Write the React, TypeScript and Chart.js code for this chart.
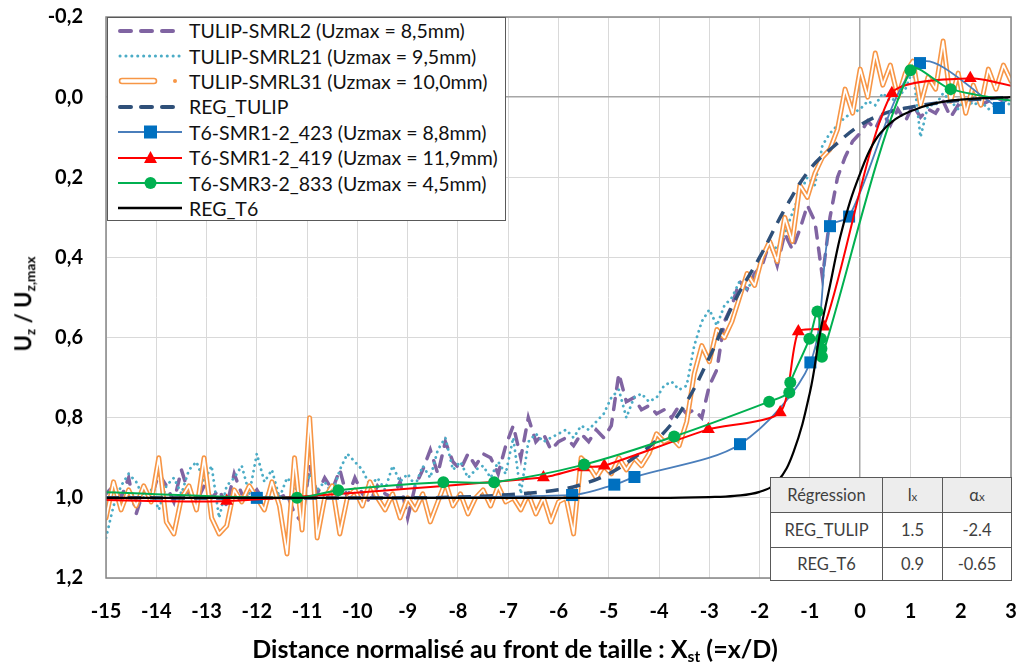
import React, { useEffect, useRef } from "react";
import { Chart, registerables } from "chart.js";

Chart.register(...registerables);

const FONT = "Lato, 'Open Sans', 'DejaVu Sans', sans-serif";

// ---------- data ----------
const xTickValues = [-15, -14, -13, -12, -11, -10, -9, -8, -7, -6, -5, -4, -3, -2, -1, 0, 1, 2, 3];
const yTickValues = [-0.2, 0, 0.2, 0.4, 0.6, 0.8, 1.0, 1.2];

const legendLabels = [
  "TULIP-SMRL2 (Uzmax = 8,5mm)",
  "TULIP-SMRL21 (Uzmax = 9,5mm)",
  "TULIP-SMRL31 (Uzmax = 10,0mm)",
  "REG_TULIP",
  "T6-SMR1-2_423 (Uzmax = 8,8mm)",
  "T6-SMR1-2_419 (Uzmax = 11,9mm)",
  "T6-SMR3-2_833 (Uzmax = 4,5mm)",
  "REG_T6",
];

const tableHeader = ["Régression", "l", "α"];
const tableRows = [
  ["REG_TULIP", "1.5", "-2.4"],
  ["REG_T6", "0.9", "-0.65"],
];

const tulipX = [
  -15, -14.85, -14.7, -14.55, -14.4, -14.25, -14.1, -13.95, -13.8, -13.65,
  -13.5, -13.35, -13.2, -13.05, -12.9, -12.75, -12.6, -12.45, -12.3, -12.15,
  -12, -11.85, -11.7, -11.55, -11.4, -11.25, -11.1, -10.95, -10.8, -10.65,
  -10.5, -10.35, -10.2, -10.05, -9.9, -9.75, -9.6, -9.45, -9.3, -9.15,
  -9, -8.85, -8.7, -8.55, -8.4, -8.25, -8.1, -7.95, -7.8, -7.65,
  -7.5, -7.35, -7.2, -7.05, -6.9, -6.75, -6.6, -6.45, -6.3, -6.15,
  -6, -5.85, -5.7, -5.55, -5.4, -5.25, -5.1, -4.95, -4.8, -4.65,
  -4.5, -4.35, -4.2, -4.05, -3.9, -3.75, -3.6, -3.45, -3.3, -3.15,
  -3, -2.85, -2.7, -2.55, -2.4, -2.25, -2.1, -1.95, -1.8, -1.65,
  -1.5, -1.35, -1.2, -1.05, -0.9, -0.75, -0.6, -0.45, -0.3, -0.15,
  0, 0.15, 0.3, 0.45, 0.6, 0.75, 0.9, 1.05, 1.2, 1.35,
  1.5, 1.65, 1.8, 1.95, 2.1, 2.25, 2.4, 2.55, 2.7, 2.85,
  3,
];

const smrl2Y = [
  0.99, 0.97, 1.0, 0.95, 1.04, 0.98, 1.0, 0.94, 0.97, 1.01,
  0.93, 0.99, 1.01, 0.97, 1.0, 0.98, 1.02, 0.94, 0.99, 1.0,
  0.98, 1.01, 0.97, 1.0, 0.99, 1.04, 1.06, 0.92, 0.99, 0.95,
  0.98, 0.93, 1.0, 0.95, 0.99, 1.01, 0.97, 0.99, 1.0, 0.96,
  1.05, 0.97, 0.93, 0.88, 0.94, 0.86, 0.91, 0.93, 0.89, 0.92,
  0.89, 0.9, 0.94, 0.87, 0.82, 0.9, 0.8, 0.86, 0.84, 0.88,
  0.86, 0.85, 0.87, 0.84, 0.86, 0.83, 0.85, 0.82, 0.69, 0.76,
  0.75, 0.78, 0.77, 0.79, 0.78, 0.8, 0.77, 0.79, 0.78, 0.8,
  0.72, 0.68, 0.56, 0.52, 0.46, 0.48, 0.44, 0.42, 0.36, 0.42,
  0.34, 0.38, 0.33, 0.27, 0.31, 0.45, 0.3, 0.2, 0.15, 0.11,
  0.09, 0.06, 0.08, 0.04, 0.07, 0.03, 0.06, 0.02, 0.05, 0.03,
  0.04, 0.01, 0.05, 0.02, 0.03, 0.0, 0.02, 0.01, 0.0, 0.01,
  0.0,
];

const smrl21Y = [
  1.1, 1.02, 0.97, 0.94, 0.96, 1.0, 0.98, 1.03, 0.97, 0.95,
  0.99, 0.93, 0.91, 0.96, 0.92, 1.05, 0.97, 0.95, 0.92, 0.99,
  0.89, 0.96, 0.93, 1.0, 0.95, 0.97, 1.01, 0.94, 0.98, 0.96,
  0.99, 0.93, 0.89, 0.91, 0.93, 0.97, 0.95, 0.98, 0.92, 0.96,
  0.94, 0.97, 0.92, 0.95, 0.88, 0.85, 0.93, 0.91, 0.95, 0.93,
  0.92, 0.95, 0.91, 0.94, 0.85, 0.99, 0.86, 0.84, 0.86, 0.85,
  0.84, 0.83, 0.85, 0.82, 0.83, 0.81, 0.79, 0.75, 0.73, 0.8,
  0.75, 0.74, 0.76, 0.75, 0.72, 0.71, 0.73, 0.72, 0.62, 0.56,
  0.53, 0.57, 0.52, 0.5, 0.46, 0.48, 0.45, 0.4, 0.36, 0.38,
  0.34, 0.29, 0.24, 0.2, 0.22, 0.12, 0.09, 0.07, 0.05, 0.04,
  0.03, 0.01, 0.02, -0.01, 0.01, 0.0, -0.02, -0.07, 0.1, 0.02,
  0.02, -0.01, 0.01, 0.03, 0.0, 0.02, 0.01, 0.03, 0.02, 0.01,
  0.02,
];

const smrl31Y = [
  1.05, 0.96, 1.03, 0.98, 1.02, 0.97, 1.01, 0.9, 1.06, 1.09,
  1.0, 0.97, 1.03, 0.9, 1.05, 1.09, 1.07, 0.98, 1.01, 0.97,
  1.0, 1.03, 0.96, 1.02, 1.14, 0.9, 1.08, 0.8, 1.1, 1.0,
  0.97, 1.09, 1.0, 0.98, 1.02, 0.96, 1.0, 1.03, 0.99, 1.05,
  1.0, 1.03, 0.99, 1.06, 1.01, 0.96, 1.02, 0.99, 1.04, 1.0,
  0.98, 1.02, 0.97, 1.01, 1.0, 1.03, 0.99, 1.04, 1.0, 1.06,
  1.01, 1.0, 1.09, 0.9, 0.92, 0.95, 0.92, 0.94, 0.9, 0.93,
  0.9, 0.92, 0.89, 0.84, 0.86, 0.85, 0.87, 0.81, 0.69, 0.62,
  0.66, 0.58, 0.6, 0.56, 0.5, 0.44, 0.47, 0.4, 0.36, 0.41,
  0.3, 0.36, 0.22, 0.25, 0.19, 0.15, 0.13, 0.08, -0.02, 0.04,
  -0.07, 0.0, -0.11, -0.03, -0.08, 0.0, -0.06, -0.09, 0.02, -0.05,
  -0.02, -0.14, 0.01, -0.06, 0.04, -0.03, 0.02, -0.07, -0.02, -0.08,
  -0.04,
];

const regTulipX = [-15, -9, -8, -7, -6, -5.5, -5, -4.5, -4, -3.5, -3, -2.5, -2, -1.5, -1, -0.5, 0, 0.5, 1, 1.5, 2, 3];
const regTulipY = [1.0, 1.0, 0.998, 0.992, 0.98, 0.965, 0.94, 0.9, 0.85, 0.77, 0.65, 0.51, 0.4, 0.28, 0.18, 0.12, 0.07, 0.04, 0.025, 0.015, 0.008, 0.0];

const regT6X = [-15, -4, -3, -2.5, -2, -1.65, -1.33, -1.0, -0.8, -0.6, -0.4, -0.2, 0, 0.2, 0.4, 0.7, 1.0, 1.5, 2, 3];
const regT6Y = [1.0, 1.0, 0.998, 0.995, 0.985, 0.96, 0.887, 0.737, 0.59, 0.47, 0.35, 0.26, 0.19, 0.13, 0.09, 0.055, 0.035, 0.015, 0.006, 0.0];

const t6s423X = [-15.3, -12.0, -5.73, -4.89, -4.49, -2.39, -0.99, -0.6, -0.22, 1.19, 2.76];
const t6s423Y = [1.0, 1.0, 0.993, 0.967, 0.948, 0.866, 0.662, 0.322, 0.298, -0.085, 0.027];

const t6s419X = [-15.3, -12.6, -6.3, -5.5, -5.09, -3.02, -1.59, -1.23, -0.72, 0.63, 2.19, 3.3];
const t6s419Y = [1.005, 1.008, 0.949, 0.924, 0.92, 0.829, 0.787, 0.585, 0.573, -0.01, -0.047, -0.02];

const t6s833X = [-15.3, -11.2, -10.38, -8.29, -7.28, -5.49, -3.7, -1.81, -1.41, -1.39, -1.01, -0.85, -0.78, -0.77, -0.76, 1.0, 1.8, 3.3];
const t6s833Y = [0.985, 1.0, 0.981, 0.961, 0.961, 0.917, 0.847, 0.76, 0.737, 0.712, 0.603, 0.535, 0.603, 0.628, 0.648, -0.067, -0.02, 0.015];

// ---------- styles ----------
const C_PURPLE = "#8064A2";
const C_TEAL = "#4BACC6";
const C_ORANGE = "#F79646";
const C_NAVY = "#2F5079";
const C_BLUE_LINE = "#4A7EBB";
const C_BLUE_MARK = "#0070C0";
const C_RED = "#FF0000";
const C_GREEN = "#00B050";

function pts(xs: number[], ys: number[]) {
  return xs.map((x, i) => ({ x, y: ys[i] }));
}

const framePlugin = {
  id: "frame",
  afterDatasetsDraw(chart: any) {
    const { ctx, chartArea: a } = chart;
    ctx.save();
    ctx.strokeStyle = "#868686";
    ctx.lineWidth = 1.5;
    ctx.strokeRect(a.left, a.top, a.right - a.left, a.bottom - a.top);
    ctx.restore();
  },
};

function zeroPad(s: any) {
  s.paddingTop = 0;
  s.paddingBottom = 0;
  s.paddingLeft = 0;
  s.paddingRight = 0;
}

function LegendSymbol({ idx }: { idx: number }) {
  const w = 64;
  const h = 16;
  const m = 8;
  let content: any = null;
  if (idx === 0 || idx === 3) {
    content = (
      <line x1={2} y1={m} x2={62} y2={m} stroke={idx === 0 ? C_PURPLE : C_NAVY} strokeWidth={4}
        strokeDasharray="11 10" strokeLinecap="round" />
    );
  } else if (idx === 1) {
    content = (
      <line x1={2} y1={m} x2={63} y2={m} stroke={C_TEAL} strokeWidth={3}
        strokeDasharray="0.1 5.8" strokeLinecap="round" />
    );
  } else if (idx === 2) {
    content = (
      <g>
        <rect x={1.5} y={m - 2.5} width={37} height={5} rx={2.5} fill="#fff" stroke={C_ORANGE} strokeWidth={1.6} />
        <circle cx={57} cy={m} r={2} fill={C_ORANGE} />
      </g>
    );
  } else if (idx === 4) {
    content = (
      <g>
        <line x1={0} y1={m} x2={64} y2={m} stroke={C_BLUE_LINE} strokeWidth={2} />
        <rect x={26} y={m - 6.5} width={13} height={13} fill={C_BLUE_MARK} />
      </g>
    );
  } else if (idx === 5) {
    content = (
      <g>
        <line x1={0} y1={m} x2={64} y2={m} stroke={C_RED} strokeWidth={2} />
        <polygon points={`32.5,${m - 7} 39,${m + 5} 26,${m + 5}`} fill={C_RED} />
      </g>
    );
  } else if (idx === 6) {
    content = (
      <g>
        <line x1={0} y1={m} x2={64} y2={m} stroke={C_GREEN} strokeWidth={2} />
        <circle cx={32.5} cy={m} r={6} fill={C_GREEN} />
      </g>
    );
  } else {
    content = <line x1={0} y1={m} x2={64} y2={m} stroke="#000" strokeWidth={2.5} />;
  }
  return (
    <svg width={w} height={h} style={{ display: "block", flex: "none" }}>
      {content}
    </svg>
  );
}

export default function App() {
  const ref = useRef<HTMLCanvasElement | null>(null);

  useEffect(() => {
    if (!ref.current) return;
    const gridColor = (c: any) => (c.tick && c.tick.value === 0 ? "#A6A6A6" : "#D9D9D9");
    const gridWidth = (c: any) => (c.tick && c.tick.value === 0 ? 1.5 : 1);
    const tickFont = { family: FONT, size: 20, weight: "bold" as const };

    const chart = new Chart(ref.current, {
      type: "line",
      data: {
        datasets: [
          {
            label: legendLabels[0], data: pts(tulipX, smrl2Y), borderColor: C_PURPLE, borderWidth: 3.5,
            borderDash: [11, 10], borderCapStyle: "round", pointRadius: 0, tension: 0, order: 9,
          },
          {
            label: legendLabels[1], data: pts(tulipX, smrl21Y), borderColor: C_TEAL, borderWidth: 2.8,
            borderDash: [0.1, 5.6], borderCapStyle: "round", pointRadius: 0, tension: 0, order: 8,
          },
          {
            label: legendLabels[2], data: pts(tulipX, smrl31Y), borderColor: C_ORANGE, borderWidth: 5,
            borderJoinStyle: "round", borderCapStyle: "round", pointRadius: 0, tension: 0, order: 7,
          },
          {
            label: "_inner", data: pts(tulipX, smrl31Y), borderColor: "#FFFFFF", borderWidth: 1.8,
            borderJoinStyle: "round", borderCapStyle: "round", pointRadius: 0, tension: 0, order: 6,
          },
          {
            label: legendLabels[3], data: pts(regTulipX, regTulipY), borderColor: C_NAVY, borderWidth: 3.5,
            borderDash: [13, 9], pointRadius: 0, tension: 0.4, order: 5,
          },
          {
            label: legendLabels[4], data: pts(t6s423X, t6s423Y), borderColor: C_BLUE_LINE, borderWidth: 1.8,
            pointStyle: "rect", pointRadius: 8.5, pointBackgroundColor: C_BLUE_MARK, pointBorderColor: C_BLUE_MARK,
            pointBorderWidth: 0, tension: 0.3, order: 4,
          },
          {
            label: legendLabels[5], data: pts(t6s419X, t6s419Y), borderColor: C_RED, borderWidth: 2,
            pointStyle: "triangle", pointRadius: 7.5, pointBackgroundColor: C_RED, pointBorderColor: C_RED,
            pointBorderWidth: 0, tension: 0.22, order: 3,
          },
          {
            label: legendLabels[6], data: pts(t6s833X, t6s833Y), borderColor: C_GREEN, borderWidth: 2,
            pointStyle: "circle", pointRadius: 6, pointBackgroundColor: C_GREEN, pointBorderColor: C_GREEN,
            pointBorderWidth: 0, tension: 0.3, order: 2,
          },
          {
            label: legendLabels[7], data: pts(regT6X, regT6Y), borderColor: "#000000", borderWidth: 2.2,
            pointRadius: 0, tension: 0.4, order: 1,
          },
        ] as any,
      },
      options: {
        responsive: false,
        animation: false,
        devicePixelRatio: 1,
        events: [],
        layout: { autoPadding: false, padding: { top: 17, right: 8, left: 0, bottom: 0 } },
        plugins: { legend: { display: false }, tooltip: { enabled: false } },
        scales: {
          x: {
            type: "linear",
            min: -15,
            max: 3,
            afterBuildTicks: (s: any) => {
              s.ticks = xTickValues.map((v) => ({ value: v }));
            },
            afterFit: (s: any) => {
              s.height = 90;
              zeroPad(s);
            },
            grid: { color: gridColor, lineWidth: gridWidth, drawTicks: false },
            border: { display: false },
            ticks: {
              font: tickFont, color: "#000", padding: 22, autoSkip: false, maxRotation: 0,
              callback: (v: any) => String(v),
            },
          },
          y: {
            type: "linear",
            reverse: true,
            min: -0.2,
            max: 1.2,
            afterBuildTicks: (s: any) => {
              s.ticks = yTickValues.map((v) => ({ value: v }));
            },
            afterFit: (s: any) => {
              s.width = 106;
              zeroPad(s);
            },
            grid: { color: gridColor, lineWidth: gridWidth, drawTicks: false },
            border: { display: false },
            ticks: {
              font: tickFont, color: "#000", padding: 23,
              callback: (v: any) => (Math.round(Number(v) * 10) / 10).toFixed(1).replace(".", ","),
            },
          },
        },
      } as any,
      plugins: [framePlugin],
    });
    return () => chart.destroy();
  }, []);

  const sub = { fontSize: "0.62em", verticalAlign: "-0.28em" } as const;
  const cell: any = {
    border: "1.5px solid #595959",
    textAlign: "center",
    verticalAlign: "middle",
    padding: 0,
  };

  return (
    <div style={{ position: "absolute", left: 0, top: 0, width: 1019, height: 668, background: "#fff", overflow: "hidden" }}>
      <canvas ref={ref} width={1019} height={668} style={{ display: "block" }} />

      {/* Legend */}
      <div
        style={{
          position: "absolute", left: 107, top: 17, width: 399, height: 204, boxSizing: "border-box",
          border: "1.5px solid #595959", background: "#fff", fontFamily: FONT, fontSize: 19.5, color: "#111",
        }}
      >
        {legendLabels.map((lab, i) => (
          <div key={i} style={{ height: 25.4, display: "flex", alignItems: "center", whiteSpace: "nowrap" }}>
            <div style={{ width: 10, flex: "none" }} />
            <LegendSymbol idx={i} />
            <div style={{ width: 7, flex: "none" }} />
            <span>{lab}</span>
          </div>
        ))}
      </div>

      {/* Regression table */}
      <table
        style={{
          position: "absolute", left: 770, top: 477, width: 241, height: 103, borderCollapse: "collapse",
          tableLayout: "fixed", background: "#fff", fontFamily: FONT, fontSize: 16.5, color: "#3F3F3F",
        }}
      >
        <colgroup>
          <col style={{ width: 112 }} />
          <col style={{ width: 60 }} />
          <col style={{ width: 69 }} />
        </colgroup>
        <tbody>
          <tr style={{ height: 35, background: "#EDEDED" }}>
            <td style={cell}>{tableHeader[0]}</td>
            <td style={cell}>
              {tableHeader[1]}
              <span style={{ fontSize: "0.7em" }}>x</span>
            </td>
            <td style={cell}>
              {tableHeader[2]}
              <span style={{ fontSize: "0.7em" }}>x</span>
            </td>
          </tr>
          {tableRows.map((r, i) => (
            <tr key={i} style={{ height: i === 0 ? 35 : 33 }}>
              {r.map((c, j) => (
                <td key={j} style={cell}>{c}</td>
              ))}
            </tr>
          ))}
        </tbody>
      </table>

      {/* Y axis title */}
      <div
        style={{
          position: "absolute", left: 25, top: 304, transform: "translate(-50%, -50%) rotate(-90deg)",
          whiteSpace: "nowrap", fontFamily: FONT, fontWeight: "bold", fontSize: 22, color: "#000", lineHeight: 1,
        }}
      >
        U<span style={sub}>z</span> / U<span style={sub}>z,max</span>
      </div>

      {/* X axis title */}
      <div
        style={{
          position: "absolute", left: 515, top: 650, transform: "translate(-50%, -50%)",
          whiteSpace: "nowrap", fontFamily: FONT, fontWeight: "bold", fontSize: 25, color: "#000", lineHeight: 1,
        }}
      >
        Distance normalisé au front de taille : X<span style={sub}>st</span> (=x/D)
      </div>
    </div>
  );
}
